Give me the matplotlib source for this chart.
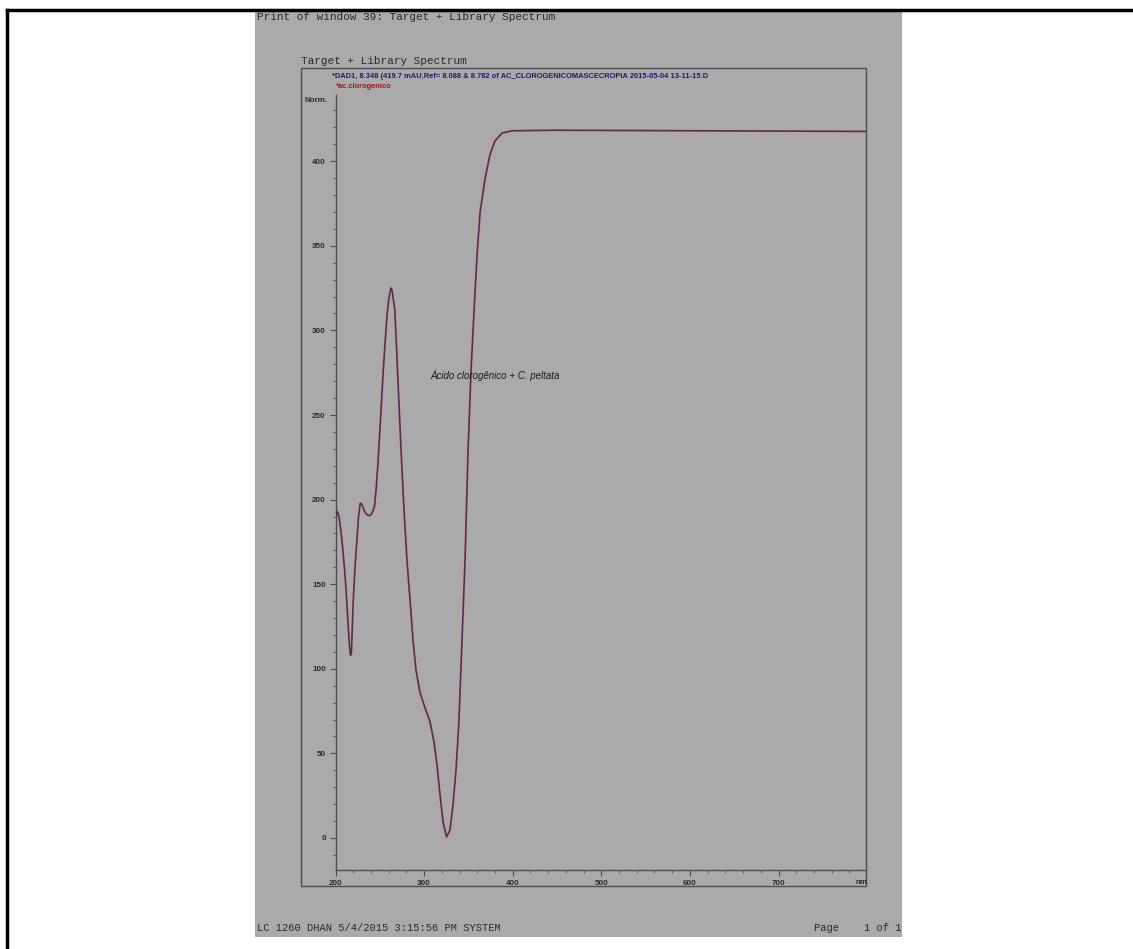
import matplotlib
matplotlib.use("Agg")
import matplotlib.pyplot as plt
from matplotlib.patches import Rectangle
from matplotlib.lines import Line2D
from matplotlib.ticker import MultipleLocator

# ---------------- data ----------------
wavelength_nm = [200, 202, 204, 206, 208, 210, 212, 214, 216, 217, 218, 220, 222, 224, 226, 228,
                 230, 232, 234, 236, 238, 240, 242, 244, 246, 248, 250, 252, 254, 256, 258, 260,
                 262, 263, 264, 267, 270.5, 274, 277.3, 280.7, 284.1, 287.5, 290.9, 295.4, 301,
                 306.7, 311.2, 314.6, 318, 321.4, 325.3, 329.2, 332.6, 336, 339.4, 342.8, 346.2,
                 349.6, 353, 356.4, 359.8, 363.2, 368.9, 374.4, 380, 388, 400, 450, 500, 600, 700, 798]
target_mau = [189, 193, 190, 182, 172, 160, 146, 128, 112, 108, 110, 140, 160, 175, 190, 198,
              197, 194, 192, 191, 190.5, 191, 193, 196, 207, 222, 240, 259, 277, 293, 308, 318,
              324, 325, 323, 312, 270, 229, 194, 164, 140.7, 117, 99, 86, 77,
              68.6, 56.7, 43, 25.4, 9.5, 0.6, 4.7, 19.5, 40, 70, 117, 164,
              229, 276.6, 312, 344.6, 370, 390, 404, 412, 416.7, 418, 418.3, 418.2, 418, 417.8, 417.6]
library_mau = list(target_mau)

y_ticks = [0, 50, 100, 150, 200, 250, 300, 350, 400]
x_ticks = [200, 300, 400, 500, 600, 700]

header_text = "Print of window 39: Target + Library Spectrum"
plot_title = "Target + Library Spectrum"
target_label = "*DAD1, 8.348 (419.7 mAU,Ref= 8.088 & 8.782 of AC_CLOROGENICOMASCECROPIA 2015-05-04 13-11-15.D"
library_label = "*ac.clorogenico"
annotation = "Ácido clorogênico + C. peltata"
y_unit = "Norm."
x_unit = "nm"
footer_left = "LC 1260 DHAN 5/4/2015 3:15:56 PM SYSTEM"
footer_right = "Page    1 of 1"

# ---------------- layout helpers ----------------
W, H = 1133, 949
def fx(x):
    return x / W
def fy(y):
    return 1 - y / H

fig = plt.figure(figsize=(W / 100, H / 100), dpi=100)
fig.patch.set_facecolor("white")

GRAY = "#aaaaaa"
DARK = "#2a2a2a"
FRAME = "#4e4e4e"

# scanned page
fig.add_artist(Rectangle((fx(255), fy(937)), fx(902) - fx(255), fy(12) - fy(937),
                         transform=fig.transFigure, facecolor=GRAY, edgecolor="none", zorder=0))
# outer black border (left & top)
fig.add_artist(Line2D([fx(7), fx(7)], [fy(10), 0], transform=fig.transFigure, color="black", lw=2.5))
fig.add_artist(Line2D([fx(7), 1], [fy(10), fy(10)], transform=fig.transFigure, color="black", lw=2.5))
# plot frame
fig.add_artist(Rectangle((fx(301), fy(886)), fx(866) - fx(301), fy(68) - fy(886),
                         transform=fig.transFigure, facecolor="none", edgecolor=FRAME, lw=1.0, zorder=1))

# axes
ax_l, ax_r, ax_t, ax_b = 335.5, 866, 95, 870
ax = fig.add_axes([fx(ax_l), fy(ax_b), fx(ax_r) - fx(ax_l), fy(ax_t) - fy(ax_b)])
ax.set_facecolor("none")
px_per_nm = 0.886
px_per_mau = 1.692
ax.set_xlim(200, 200 + (ax_r - ax_l) / px_per_nm)
ax.set_ylim((838 - ax_b) / px_per_mau, (838 - ax_t) / px_per_mau)

ax.plot(wavelength_nm, library_mau, color="#c49ca6", lw=3.0, solid_capstyle="round", zorder=2)
ax.plot(wavelength_nm, target_mau, color="#3e3a4c", lw=1.2, zorder=3)

for s in ["top", "right"]:
    ax.spines[s].set_visible(False)
for s in ["left", "bottom"]:
    ax.spines[s].set_color(FRAME)
    ax.spines[s].set_linewidth(1.0)

ax.set_yticks(y_ticks)
ax.set_xticks(x_ticks)
ax.yaxis.set_minor_locator(MultipleLocator(10))
ax.xaxis.set_minor_locator(MultipleLocator(20))
ax.tick_params(axis="both", which="major", length=4, width=0.8, color=FRAME,
               labelsize=5.8, labelcolor=DARK, pad=3)
ax.tick_params(axis="both", which="minor", length=2, width=0.6, color=FRAME)
for lab in ax.get_xticklabels() + ax.get_yticklabels():
    lab.set_fontweight("bold")
    lab.set_fontfamily("Liberation Sans")

# unit labels
fig.text(fx(328), fy(101), y_unit, ha="right", va="center", fontsize=5.8, fontweight="bold",
         color=DARK, family="Liberation Sans")
fig.text(fx(861), fy(883), x_unit, ha="center", va="center", fontsize=5.8, fontweight="bold",
         color=DARK, family="Liberation Sans")

# texts
mono = "Liberation Mono"
fig.text(fx(257), fy(17), header_text, ha="left", va="center", fontsize=8, color=DARK, family=mono)
fig.text(fx(301), fy(61), plot_title, ha="left", va="center", fontsize=8, color=DARK, family=mono)
fig.text(fx(332), fy(76), target_label, ha="left", va="center", fontsize=5.4, fontweight="bold",
         color="#1c1c72", family="Liberation Sans")
fig.text(fx(336), fy(86), library_label, ha="left", va="center", fontsize=5.4, fontweight="bold",
         color="#a01818", family="Liberation Sans")
fig.text(fx(430), fy(375), annotation, ha="left", va="center", fontsize=7, style="italic",
         color="#1a1a1a", family="Liberation Sans")
fig.text(fx(257), fy(928), footer_left, ha="left", va="center", fontsize=7.5, color=DARK, family=mono)
fig.text(fx(902), fy(928), footer_right, ha="right", va="center", fontsize=7.5, color=DARK, family=mono)

fig.savefig("out.png", dpi=100)
